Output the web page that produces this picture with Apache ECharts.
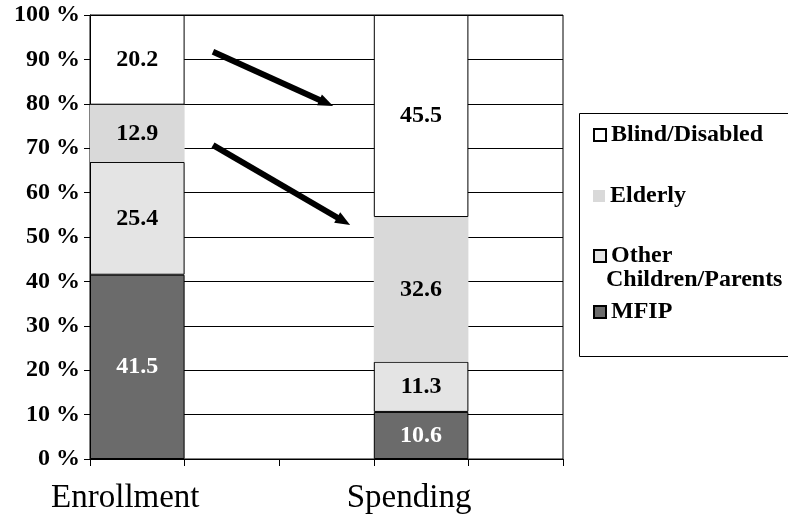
<!DOCTYPE html>
<html>
<head>
<meta charset="utf-8">
<script src="https://cdn.jsdelivr.net/npm/echarts@6/dist/echarts.min.js"></script>
<style>
  html, body { margin: 0; padding: 0; background: #fff; }
  #chart { width: 788px; height: 518px; }
</style>
</head>
<body>
<div id="chart"></div>
<script>
// Category slots along the x axis; the two bars sit in slots 0 and 3.
const slots = ['Enrollment', ' ', '  ', 'Spending', '   '];
const barSlots = ['Enrollment', 'Spending'];

// Share (%) of each group, enrollment vs. spending
const mfip = [41.5, 10.6];
const otherChildren = [25.4, 11.3];
const elderly = [12.9, 32.6];
const blindDisabled = [20.2, 45.5];

const yTicks = [0, 10, 20, 30, 40, 50, 60, 70, 80, 90, 100];

const serif = '"Liberation Serif", "Times New Roman", serif';

function spread(values) {
  return slots.map(s => {
    const i = barSlots.indexOf(s);
    return i >= 0 ? values[i] : null;
  });
}

const GRID = { left: 90, top: 15, width: 473, height: 444 };

function seg(name, values, fill, border, labelColor) {
  return {
    name: name,
    type: 'bar',
    stack: 'share',
    barCategoryGap: 0,
    data: spread(values),
    itemStyle: {
      color: fill,
      borderColor: border ? '#000' : fill,
      borderWidth: border ? 1 : 0
    },
    label: {
      show: true,
      position: 'inside',
      formatter: p => p.value.toFixed(1),
      color: labelColor,
      fontFamily: serif,
      fontWeight: 'bold',
      fontSize: 24
    },
    emphasis: { disabled: true }
  };
}

function legendItem(name, centerY, shown) {
  return {
    data: [name],
    orient: 'vertical',
    left: 588,
    top: centerY - 14,
    itemWidth: 12,
    itemHeight: 12,
    icon: 'rect',
    selectedMode: false,
    formatter: () => shown,
    textStyle: { fontFamily: serif, fontWeight: 'bold', fontSize: 24, color: '#000' }
  };
}

// Trend arrows, given as (slot position, percent) pairs
const arrows = [
  { from: [0.80, 91.7], to: [2.07, 79.5] },
  { from: [0.80, 70.7], to: [2.25, 52.7] }
];

function toPx(pt) {
  const x = GRID.left + (pt[0] + 0.5) * GRID.width / slots.length;
  const y = GRID.top + GRID.height * (1 - pt[1] / 100);
  return [x, y];
}

function arrowGraphic(a) {
  const p0 = toPx(a.from), p1 = toPx(a.to);
  const dx = p1[0] - p0[0], dy = p1[1] - p0[1];
  const len = Math.sqrt(dx * dx + dy * dy);
  const ux = dx / len, uy = dy / len;
  const headLen = 15, headHalf = 6;
  const bx = p1[0] - ux * headLen, by = p1[1] - uy * headLen;
  return [
    {
      type: 'line',
      shape: { x1: p0[0], y1: p0[1], x2: bx + ux * 2, y2: by + uy * 2 },
      style: { stroke: '#000', lineWidth: 6 },
      z: 100
    },
    {
      type: 'polygon',
      shape: { points: [p1, [bx - uy * headHalf, by + ux * headHalf], [bx + uy * headHalf, by - ux * headHalf]] },
      style: { fill: '#000' },
      z: 100
    }
  ];
}

const chart = echarts.init(document.getElementById('chart'), null, { renderer: 'canvas' });

chart.setOption({
  animation: false,
  backgroundColor: '#fff',
  grid: {
    left: GRID.left, top: GRID.top, width: GRID.width, height: GRID.height,
    show: true, borderColor: '#000', borderWidth: 1, backgroundColor: 'transparent'
  },
  xAxis: {
    type: 'category',
    data: slots,
    boundaryGap: true,
    axisLine: { lineStyle: { color: '#000', width: 1 } },
    axisTick: { show: true, interval: 0, length: 7, lineStyle: { color: '#000' } },
    axisLabel: {
      interval: 0, fontFamily: serif, fontSize: 33, color: '#000', margin: 23,
      padding: [0, 24, 0, 0]
    },
    splitLine: { show: false }
  },
  yAxis: {
    type: 'value',
    min: 0,
    max: 100,
    interval: 10,
    axisLine: { show: true, lineStyle: { color: '#000', width: 1 } },
    axisTick: { show: true, length: 6, lineStyle: { color: '#000' } },
    axisLabel: {
      formatter: v => yTicks.indexOf(v) >= 0 ? v + ' %' : '',
      fontFamily: serif, fontWeight: 'bold', fontSize: 24, color: '#000', margin: 10
    },
    splitLine: { show: true, lineStyle: { color: '#000', width: 1 } }
  },
  legend: [
    legendItem('Blind/Disabled', 132, 'Blind/Disabled'),
    legendItem('Elderly', 193, 'Elderly'),
    legendItem('Other Children/Parents', 253, 'Other'),
    legendItem('MFIP', 309, 'MFIP')
  ],
  series: [
    seg('MFIP', mfip, '#6b6b6b', true, '#fff'),
    seg('Other Children/Parents', otherChildren, '#e4e4e4', true, '#000'),
    seg('Elderly', elderly, '#d9d9d9', false, '#000'),
    seg('Blind/Disabled', blindDisabled, '#ffffff', true, '#000')
  ],
  graphic: [
    {
      type: 'rect',
      shape: { x: 579.5, y: 113.5, width: 230, height: 243 },
      style: { fill: 'none', stroke: '#000', lineWidth: 1 },
      z: 0
    },
    {
      type: 'text',
      x: 606,
      y: 280,
      style: {
        text: 'Children/Parents',
        fill: '#000',
        font: 'bold 24px ' + serif,
        verticalAlign: 'middle'
      }
    }
  ].concat(arrows.flatMap(arrowGraphic))
});
</script>
</body>
</html>
